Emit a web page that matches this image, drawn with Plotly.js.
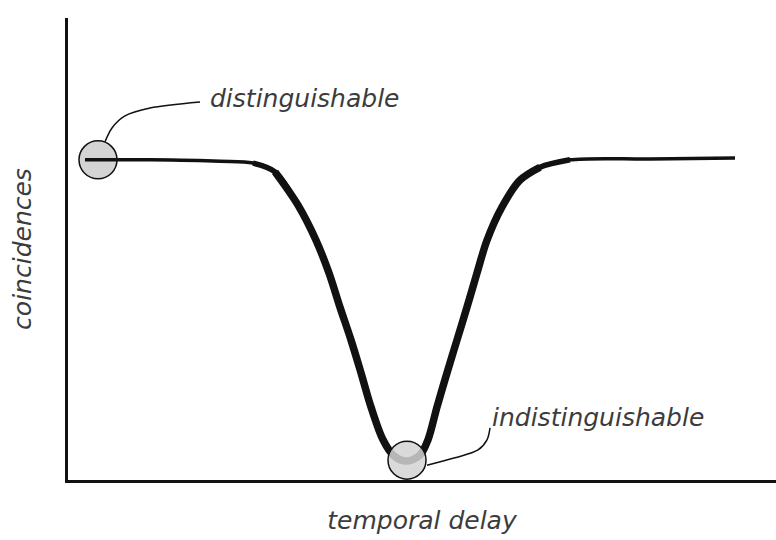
<!DOCTYPE html>
<html><head><meta charset="utf-8">
<script src="https://cdn.plot.ly/plotly-3.0.1.min.js"></script>
<style>html,body{margin:0;padding:0;background:#fff}#c{width:776px;height:540px}</style>
</head><body><div id="c"></div>
<script>
// temporal delay (arb. units) and coincidences (arb. units)
const delay = [-3.20,-2.55,-1.85,-1.52,-1.30,-1.07,-0.89,-0.76,-0.65,-0.54,-0.44,-0.34,-0.22,-0.11,0.02,0.15,0.23,0.32,0.42,0.52,0.62,0.72,0.82,0.97,1.15,1.35,1.65,2.45,3.30];
const coincidences = [0.693,0.693,0.690,0.686,0.667,0.595,0.519,0.448,0.374,0.303,0.232,0.158,0.087,0.052,0.041,0.054,0.087,0.158,0.232,0.303,0.374,0.448,0.519,0.591,0.649,0.677,0.693,0.695,0.697];
// highlighted points
const markX = [-3.07, 0.02];
const markY = [0.693, 0.043];
const labels = ["distinguishable", "indistinguishable"];
const labelX = [-1.97, 0.85];
const labelY = [0.826, 0.136];
// leader lines
const lead1X = [-3.00,-2.93,-2.80,-2.55,-2.05];
const lead1Y = [0.732,0.762,0.788,0.805,0.818];
const lead2X = [0.22,0.50,0.73,0.82,0.85];
const lead2Y = [0.032,0.048,0.065,0.087,0.113];

const font = "'DejaVu Sans', sans-serif";
const tfont = {family:font, size:25, color:'#3c3c3c', style:'italic', weight:200};
const line = (x, y, w) => ({x, y, mode:'lines', line:{color:'#111', width:w, shape:'spline', smoothing:0.9}, hoverinfo:'skip'});
const traces = [
  line(lead1X, lead1Y, 1.5),
  line(lead2X, lead2Y, 1.5),
  {x: [markX[0]], y:[markY[0]], mode:'markers', marker:{size:38, color:'#d4d4d4', line:{color:'#111', width:1.5}}, hoverinfo:'skip'},
  line(delay, coincidences, 3.5),
  line(delay.slice(3, 27), coincidences.slice(3, 27), 5.5),
  line(delay.slice(4, 26), coincidences.slice(4, 26), 7.5),
  {x: [markX[1]], y:[markY[1]], mode:'markers', marker:{size:38, color:'rgba(212,212,212,0.85)', line:{color:'#111', width:1.5}}, hoverinfo:'skip'}
];
const layout = {
  width:776, height:540,
  margin:{l:68, r:0, t:18, b:60},
  paper_bgcolor:'#fff', plot_bgcolor:'#fff',
  showlegend:false,
  xaxis:{range:[-3.37,3.71], showline:true, linecolor:'#111', linewidth:3, showgrid:false, zeroline:false, showticklabels:false, ticks:'',
    title:{text:'temporal delay', font:tfont, standoff:30}},
  yaxis:{range:[0,1], showline:true, linecolor:'#111', linewidth:3, showgrid:false, zeroline:false, showticklabels:false, ticks:'',
    title:{text:'coincidences', font:tfont, standoff:27}},
  annotations: labels.map((t,i)=>({x:labelX[i], y:labelY[i], xref:'x', yref:'y', text:t, showarrow:false, xanchor:'left', yanchor:'middle',
    font:tfont}))
};
Plotly.newPlot('c', traces, layout, {staticPlot:true});
</script></body></html>
